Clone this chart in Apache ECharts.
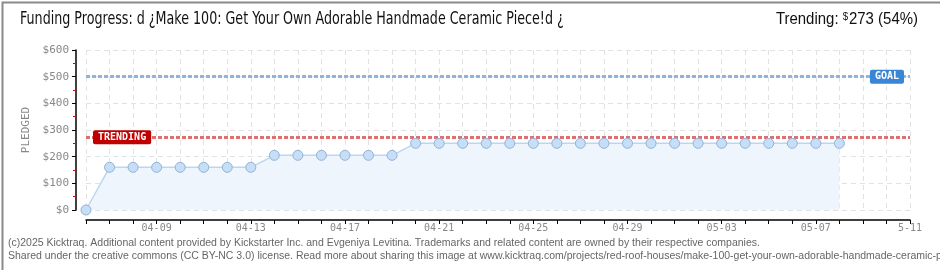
<!DOCTYPE html>
<html>
<head>
<meta charset="utf-8">
<script src="https://cdn.jsdelivr.net/npm/echarts@6/dist/echarts.min.js"></script>
<style>
html,body{margin:0;padding:0;background:#fff;}
#c{width:940px;height:270px;}
</style>
</head>
<body>
<div id="c"></div>
<script>
const categories = ['04-06','04-07','04-08','04-09','04-10','04-11','04-12','04-13','04-14','04-15','04-16','04-17','04-18','04-19','04-20','04-21','04-22','04-23','04-24','04-25','04-26','04-27','04-28','04-29','04-30','05-01','05-02','05-03','05-04','05-05','05-06','05-07','05-08','05-09','05-10','05-11'];
const pledged = [0,160,160,160,160,160,160,160,205,205,205,205,205,205,250,250,250,250,250,250,250,250,250,250,250,250,250,250,250,250,250,250,250];
const tickLabels = {'04-09':'04-09','04-13':'04-13','04-17':'04-17','04-21':'04-21','04-25':'04-25','04-29':'04-29','05-03':'05-03','05-07':'05-07','05-11':'5-11'};
const goal = 500;
const trending = 273;
const titleText = 'Funding Progress: d \u00bfMake 100: Get Your Own Adorable Handmade Ceramic Piece!d \u00bf';
const footer1 = '(c)2025 Kicktraq. Additional content provided by Kickstarter Inc. and Evgeniya Levitina. Trademarks and related content are owned by their respective companies.';
const footer2 = 'Shared under the creative commons (CC BY-NC 3.0) license. Read more about sharing this image at www.kicktraq.com/projects/red-roof-houses/make-100-get-your-own-adorable-handmade-ceramic-piece/';

const chart = echarts.init(document.getElementById('c'));
const mono = '"DejaVu Sans Mono", monospace';
chart.setOption({
  animation: false,
  backgroundColor: '#fff',
  grid: {left: 86, right: 30, top: 50, bottom: 60},
  xAxis: {
    type: 'category',
    data: categories,
    boundaryGap: false,
    offset: 10,
    axisLine: {onZero: false, lineStyle: {color: '#000', width: 1.5}},
    axisTick: {interval: 0, length: 4, lineStyle: {color: '#000'}},
    axisLabel: {
      interval: 0,
      formatter: v => tickLabels[v] || '',
      color: '#888', fontFamily: mono, fontSize: 10, margin: 3
    },
    splitLine: {show: true, interval: 0, lineStyle: {color: '#e2e2e2', type: [5, 4]}}
  },
  yAxis: {
    type: 'value',
    min: 0, max: 600, interval: 100,
    offset: 10,
    name: 'PLEDGED',
    nameLocation: 'middle',
    nameGap: 42,
    nameTextStyle: {color: '#888', fontFamily: mono, fontSize: 11},
    axisLine: {show: true, onZero: false, lineStyle: {color: '#000', width: 1.5}},
    axisTick: {show: true, length: 4, lineStyle: {color: '#000'}},
    minorTick: {show: true, splitNumber: 2, length: 3, lineStyle: {color: '#e00000'}},
    axisLabel: {formatter: v => '$' + v, color: '#888', fontFamily: mono, fontSize: 11, margin: 7},
    splitLine: {show: true, lineStyle: {color: '#e2e2e2', type: [5, 4]}}
  },
  series: [{
    type: 'line',
    data: pledged,
    symbol: 'circle',
    symbolSize: 10,
    lineStyle: {color: '#bcd6f0', width: 1.5},
    itemStyle: {color: '#c6def7', borderColor: '#93b2d4', borderWidth: 1},
    areaStyle: {color: '#eef5fd', opacity: 1},
    z: 3,
    markLine: {
      silent: true,
      symbol: 'none',
      z: 2,
      data: [
        {yAxis: goal, lineStyle: {color: '#8fb4de', width: 3, type: [4, 2]},
         label: {show: true, position: 'insideEnd', distance: 6, formatter: 'GOAL', color: '#fff', backgroundColor: '#3a86d6', padding: [2, 5], borderRadius: 2, fontFamily: mono, fontSize: 10, fontWeight: 'bold'}},
        {yAxis: trending, lineStyle: {color: '#dd7070', width: 3, type: [4, 2]},
         label: {show: true, position: 'insideStart', distance: 7, formatter: 'TRENDING', color: '#fff', backgroundColor: '#c00000', padding: [2, 5], borderRadius: 2, fontFamily: mono, fontSize: 10, fontWeight: 'bold'}}
      ]
    }
  }],
  graphic: [
    {type: 'text', x: 20, y: 11, scaleX: 0.83, style: {text: titleText, fill: '#111', font: '17px "Liberation Sans Narrow", "DejaVu Sans Condensed", sans-serif'}},
    {type: 'text', x: 918, y: 11, scaleX: 0.88, style: {text: 'Trending: {s|$}273 (54%)', align: 'right', fill: '#111', font: '17px "Liberation Sans Narrow", sans-serif', rich: {s: {fontSize: 11, verticalAlign: 'top', fill: '#111', padding: [0, 1, 6, 0]}}}},
    {type: 'text', x: 8, y: 238, scaleX: 1.05, style: {text: footer1, fill: '#666', font: '10px "Liberation Sans Narrow", sans-serif'}},
    {type: 'text', x: 8, y: 251, scaleX: 1.05, style: {text: footer2, fill: '#666', font: '10px "Liberation Sans Narrow", sans-serif'}},
    {type: 'rect', left: 0, top: 0, z: 100, shape: {width: 939, height: 269}, style: {fill: 'none', stroke: '#8a8a8a', lineWidth: 2}}
  ]
});
</script>
</body>
</html>
